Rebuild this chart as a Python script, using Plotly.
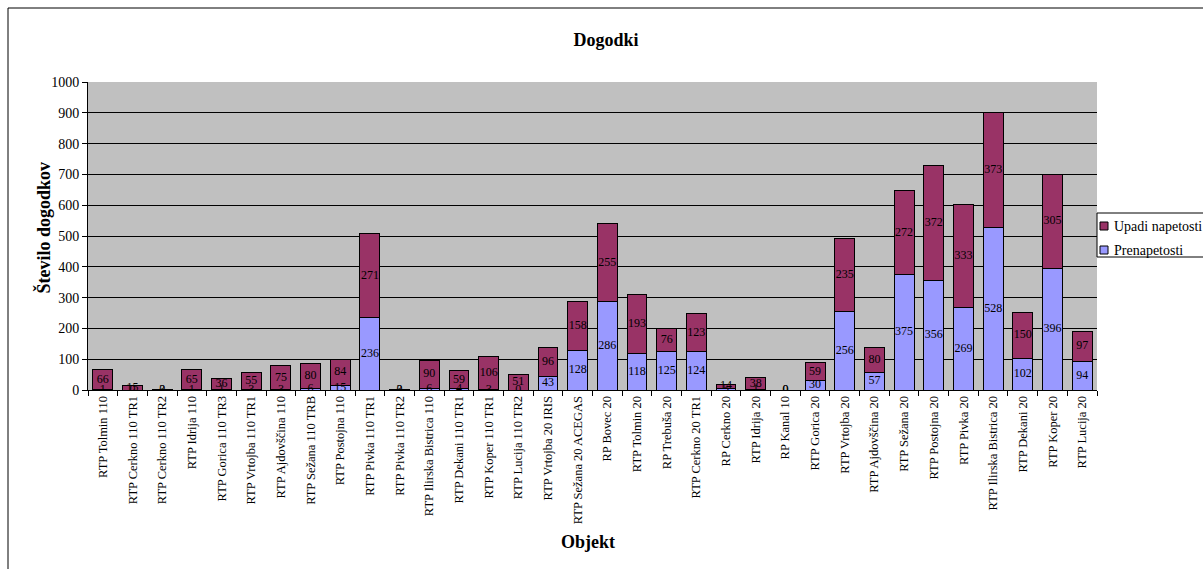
import plotly.graph_objects as go

# Measurement points (objects)
objekti = [
    "RTP Tolmin 110", "RTP Cerkno 110 TR1", "RTP Cerkno 110 TR2", "RTP Idrija 110",
    "RTP Gorica 110 TR3", "RTP Vrtojba 110 TR1", "RTP Ajdovščina 110", "RTP Sežana 110 TRB",
    "RTP Postojna 110", "RTP Pivka 110 TR1", "RTP Pivka 110 TR2", "RTP Ilirska Bistrica 110",
    "RTP Dekani 110 TR1", "RTP Koper 110 TR1", "RTP Lucija 110 TR2", "RTP Vrtojba 20 IRIS",
    "RTP Sežana 20 ACEGAS", "RP Bovec 20", "RTP Tolmin 20", "RP Trebuša 20",
    "RTP Cerkno 20 TR1", "RP Cerkno 20", "RTP Idrija 20", "RP Kanal 10",
    "RTP Gorica 20", "RTP Vrtojba 20", "RTP Ajdovščina 20", "RTP Sežana 20",
    "RTP Postojna 20", "RTP Pivka 20", "RTP Ilirska Bistrica 20", "RTP Dekani 20",
    "RTP Koper 20", "RTP Lucija 20",
]

# Overvoltage events
prenapetosti = [
    1, 0, 0, 1, 1, 3, 3, 6, 15, 236, 0, 6, 4, 3, 0, 43, 128, 286, 118, 125,
    124, 5, 1, 0, 30, 256, 57, 375, 356, 269, 528, 102, 396, 94,
]

# Voltage dips
upadi = [
    66, 15, 3, 65, 36, 55, 75, 80, 84, 271, 3, 90, 59, 106, 51, 96, 158, 255, 193, 76,
    123, 14, 38, 0, 59, 235, 80, 272, 372, 333, 373, 150, 305, 97,
]

y_ticks = [0, 100, 200, 300, 400, 500, 600, 700, 800, 900, 1000]

SERIF = "Liberation Serif"
C_PREN = "#9999FF"
C_UPADI = "#993366"

# plot area in pixels
L, R, T, B = 88, 1097, 82, 390
PW, PH = R - L, B - T


def px(x):
    return (x - L) / PW


def py(y):
    return (B - y) / PH


fig = go.Figure()

fig.add_trace(go.Bar(
    x=objekti, y=prenapetosti, name="Prenapetosti",
    marker=dict(color=C_PREN, line=dict(color="black", width=1)),
))
fig.add_trace(go.Bar(
    x=objekti, y=upadi, name="Upadi napetosti",
    marker=dict(color=C_UPADI, line=dict(color="black", width=1)),
))

# Value labels centred in each stacked segment
mid_p = [p / 2 for p in prenapetosti]
mid_u = [p + u / 2 for p, u in zip(prenapetosti, upadi)]
fig.add_trace(go.Scatter(
    x=objekti + objekti, y=mid_p + mid_u,
    text=[str(v) for v in prenapetosti + upadi],
    mode="text", textposition="middle center",
    textfont=dict(family=SERIF, size=12, color="black"),
    showlegend=False, hoverinfo="skip",
))

fig.update_layout(
    width=1203, height=569,
    barmode="stack", bargap=0.33,
    paper_bgcolor="white", plot_bgcolor="#C0C0C0",
    margin=dict(l=L, r=1203 - R, t=T, b=569 - B, autoexpand=False),
    font=dict(family=SERIF, size=13, color="black"),
    title=dict(text="<b>Dogodki</b>", x=px(606), xanchor="center", xref="paper",
               y=1 - 40 / 569, yanchor="middle",
               font=dict(family=SERIF, size=18, color="black")),
    showlegend=False,
)

fig.update_yaxes(
    range=[0, 1000], tickvals=y_ticks, ticks="outside", ticklen=5,
    tickcolor="black", showline=True, linecolor="black", linewidth=1,
    showgrid=True, gridcolor="black", gridwidth=1, zeroline=False,
    tickfont=dict(family=SERIF, size=14, color="black"),
)
fig.update_xaxes(
    type="category", tickangle=-90, ticks="outside", ticklen=5,
    tickson="boundaries", tickcolor="black", showline=True, linecolor="black",
    linewidth=1, showgrid=False, range=[-0.5, len(objekti) - 0.5],
    tickfont=dict(family=SERIF, size=12.5, color="black"),
)

# Axis titles
fig.add_annotation(
    text="<b>Število dogodkov</b>", xref="paper", yref="paper",
    x=px(30), y=py(228), textangle=-90,
    showarrow=False, font=dict(family=SERIF, size=18, color="black"),
)
fig.add_annotation(
    text="<b>Objekt</b>", xref="paper", yref="paper",
    x=px(588), y=py(554),
    showarrow=False, font=dict(family=SERIF, size=18, color="black"),
)

# Chart frame
fig.add_shape(
    type="rect", xref="paper", yref="paper",
    x0=px(8), x1=px(1240), y0=py(600), y1=py(8),
    line=dict(color="black", width=1), fillcolor="rgba(0,0,0,0)", layer="below",
)

# Legend box with swatches
fig.add_shape(
    type="rect", xref="paper", yref="paper",
    x0=px(1097), x1=px(1240), y0=py(257), y1=py(213),
    line=dict(color="black", width=1), fillcolor="white", layer="above",
)
legend_items = [("Upadi napetosti", C_UPADI, 226), ("Prenapetosti", C_PREN, 250)]
for label, color, yc in legend_items:
    fig.add_shape(
        type="rect", xref="paper", yref="paper",
        x0=px(1100), x1=px(1108), y0=py(yc + 4), y1=py(yc - 4),
        line=dict(color="black", width=1), fillcolor=color, layer="above",
    )
    fig.add_annotation(
        text=label, xref="paper", yref="paper", x=px(1112), y=py(yc),
        xanchor="left", yanchor="middle", showarrow=False,
        font=dict(family=SERIF, size=14, color="black"),
    )

fig.write_html("out.html")
